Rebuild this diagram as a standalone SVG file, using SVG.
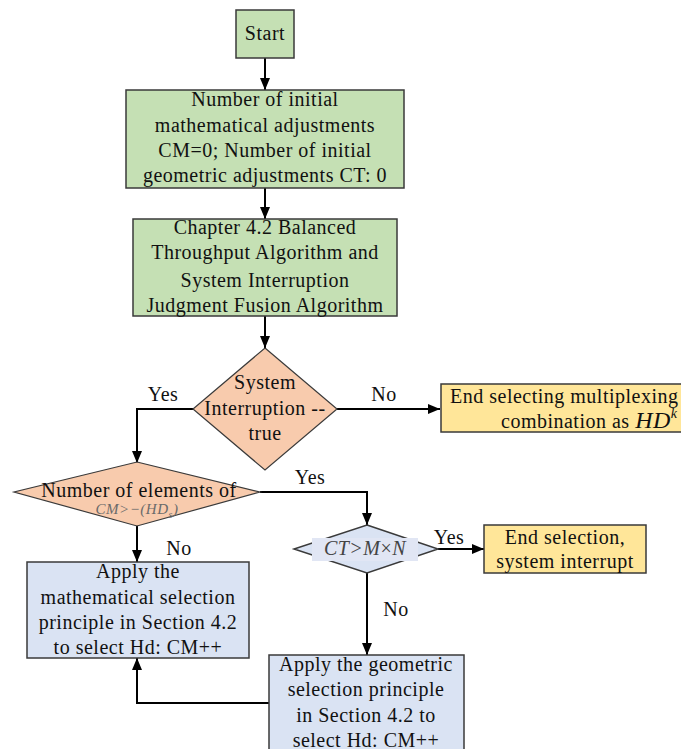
<svg xmlns="http://www.w3.org/2000/svg" width="681" height="749" viewBox="0 0 681 749">
<style>
.t{font-size:20px;fill:#111;text-anchor:middle;letter-spacing:0.5px}
.i{font-style:italic}
.g{fill:#c5e0b4;stroke:#3a3a3a;stroke-width:1.5}
.o{fill:#f8cbad;stroke:#3a3a3a;stroke-width:1.2}
.b{fill:#dae3f3;stroke:#3a3a3a;stroke-width:1.5}
.y{fill:#ffe699;stroke:#3a3a3a;stroke-width:1.5}
.c{fill:none;stroke:#000;stroke-width:2}
</style>
<defs>
<marker id="ah" viewBox="0 0 12 10" refX="12" refY="5" markerWidth="12" markerHeight="10" markerUnits="userSpaceOnUse" orient="auto">
<path d="M0,0 L12,5 L0,10 Z" fill="#000"/>
</marker>
</defs>
<rect width="681" height="749" fill="#fff"/>
<g font-family="Liberation Serif, Tinos, Noto Serif, DejaVu Serif, FreeSerif, Times New Roman, serif">
<g id="connectors">
<path class="c" d="M265,58 V90" marker-end="url(#ah)"/>
<path class="c" d="M265,188 V219" marker-end="url(#ah)"/>
<path class="c" d="M265,316 V348" marker-end="url(#ah)"/>
<path class="c" d="M193,409 H137 V463" marker-end="url(#ah)"/>
<path class="c" d="M337,409 H440" marker-end="url(#ah)"/>
<path class="c" d="M260,492 H367 V525" marker-end="url(#ah)"/>
<path class="c" d="M438,549 H484" marker-end="url(#ah)"/>
<path class="c" d="M367,573 V655" marker-end="url(#ah)"/>
<path class="c" d="M137,525 V562" marker-end="url(#ah)"/>
<path class="c" d="M269,703 H137 V658" marker-end="url(#ah)"/>
<text class="t" x="163" y="401">Yes</text>
<text class="t" x="384" y="401">No</text>
<text class="t" x="310" y="484">Yes</text>
<text class="t" x="179" y="555">No</text>
<text class="t" x="449" y="544">Yes</text>
<text class="t" x="396" y="616">No</text>
</g>
<g id="start">
<rect class="g" x="236" y="10" width="58" height="48"/>
<text class="t" x="265" y="40">Start</text>
</g>
<g id="init">
<rect class="g" x="126" y="90" width="278" height="98"/>
<text class="t" x="265" y="106">Number of initial</text>
<text class="t" x="265" y="132">mathematical adjustments</text>
<text class="t" x="265" y="157">CM=0; Number of initial</text>
<text class="t" x="265" y="182">geometric adjustments CT: 0</text>
</g>
<g id="chapter">
<rect class="g" x="133" y="219" width="264" height="97"/>
<text class="t" x="265" y="234">Chapter 4.2 Balanced</text>
<text class="t" x="265" y="259">Throughput Algorithm and</text>
<text class="t" x="265" y="287">System Interruption</text>
<text class="t" x="265" y="312">Judgment Fusion Algorithm</text>
</g>
<g id="interrupt">
<polygon class="o" points="265,348 337,409 265,470 193,409"/>
<text class="t" x="265" y="389">System</text>
<text class="t" x="265" y="415">Interruption --</text>
<text class="t" x="265" y="440">true</text>
</g>
<g id="end1">
<rect class="y" x="441" y="384" width="260" height="48"/>
<text class="t" x="450" y="403" style="text-anchor:start">End selecting multiplexing</text>
<text class="t" x="501" y="428" style="text-anchor:start">combination as <tspan class="i" font-size="24">HD</tspan><tspan class="i" font-size="14" dy="-10">k</tspan></text>
</g>
<g id="elements">
<polygon class="o" points="137,462 260,492 137,526 14,492"/>
<text class="t" x="139" y="497">Number of elements of</text>
<text class="t i" x="137" y="514" style="font-size:15px;fill:#6a6a6a">CM&gt;−(HD<tspan font-size="10" dy="4">s</tspan><tspan dy="-4">)</tspan></text>
</g>
<g id="ctcheck">
<polygon class="b" points="367,525 438,549 367,573 294,549"/>
<rect x="312" y="538" width="106" height="23" fill="#e1e6f4"/>
<text class="t i" x="365" y="555" style="fill:#444">CT&gt;M<tspan font-style="normal">×</tspan>N</text>
</g>
<g id="end2">
<rect class="y" x="484" y="525" width="162" height="48"/>
<text class="t" x="565" y="544">End selection,</text>
<text class="t" x="565" y="568">system interrupt</text>
</g>
<g id="math">
<rect class="b" x="27" y="562" width="222" height="96"/>
<text class="t" x="138" y="578">Apply the</text>
<text class="t" x="138" y="604">mathematical selection</text>
<text class="t" x="138" y="629">principle in Section 4.2</text>
<text class="t" x="138" y="654">to select Hd: CM++</text>
</g>
<g id="geo">
<rect class="b" x="269" y="655" width="195" height="110"/>
<text class="t" x="366" y="671">Apply the geometric</text>
<text class="t" x="366" y="696">selection principle</text>
<text class="t" x="366" y="722">in Section 4.2 to</text>
<text class="t" x="366" y="747">select Hd: CM++</text>
</g>
</g>
</svg>
